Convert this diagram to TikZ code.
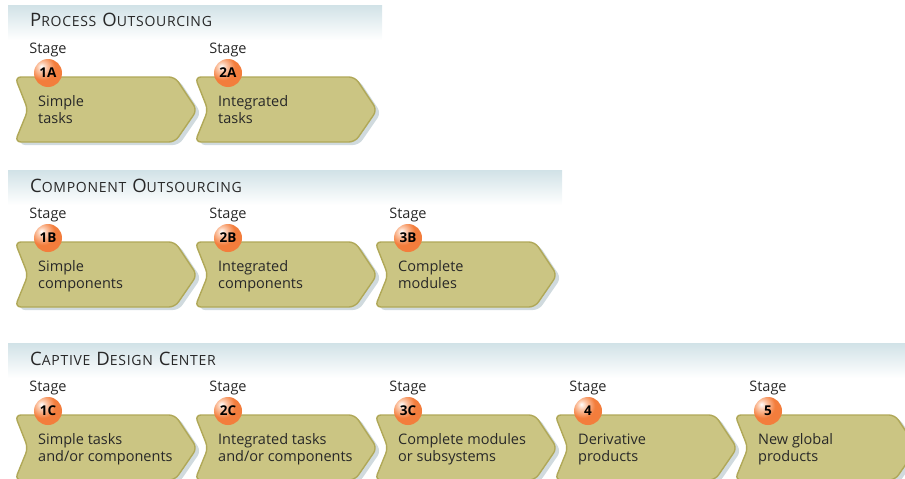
\documentclass[tikz,border=0pt]{standalone}
\usepackage{fontspec}
\setmainfont{Open Sans}
\usetikzlibrary{positioning}

\definecolor{chevfill}{RGB}{203,197,131}
\definecolor{chevedge}{RGB}{176,168,88}
\definecolor{bandtop}{RGB}{209,226,231}
\definecolor{txtgray}{RGB}{40,40,40}
\definecolor{numorange}{RGB}{243,125,60}
\definecolor{numlight}{RGB}{252,200,170}
\definecolor{shadowblue}{RGB}{120,150,160}

% highlight of the stage balls, up and to the left
\pgfdeclareradialshading{numball}{\pgfpoint{-12bp}{12bp}}{%
  color(0bp)=(white); color(8bp)=(numlight); color(22bp)=(numorange);
  color(45bp)=(numorange); color(60bp)=(numorange!92!black); color(100bp)=(numorange!92!black)}

% small caps made by hand: big initial, smaller capitals
\newcommand{\bigsc}[2]{{\addfontfeature{LetterSpace=5}{\fontsize{18.5}{19}\selectfont #1}{\fontsize{14}{14}\selectfont #2}}}
\newcommand{\scgap}{\hspace{6pt}}

\tikzset{
  stagebox/.style={fill=chevfill, draw=chevedge, line width=1.4pt, rounded corners=6pt},
  stageshadow/.style={fill=shadowblue, opacity=0.35, rounded corners=6pt},
  stagelbl/.style={text=txtgray, font=\fontsize{14.5}{15}\selectfont, inner sep=0pt},
  stagenum/.style={circle, shading=numball, minimum size=28pt, inner sep=0pt,
    font=\fontsize{13.5}{14}\selectfont\bfseries, text=black},
  boxtext/.style={text=txtgray, font=\fontsize{14.5}{15}\selectfont, inner sep=0pt, anchor=base west},
  rowtitle/.style={text=txtgray, inner sep=0pt, anchor=base west},
}

\begin{document}
\begin{tikzpicture}[x=1pt, y=-1pt]
\useasboundingbox (0,0) rectangle (905,479);
\clip (0,0) rectangle (905,479);

% header bands
\shade[top color=bandtop, bottom color=white] (8,5) rectangle (382,40);
\shade[top color=bandtop, bottom color=white] (8,170) rectangle (562,205);
\shade[top color=bandtop, bottom color=white] (8,343) rectangle (905,378);

\node[rowtitle] (title1) at (30,27) {\bigsc{P}{ROCESS}\scgap\bigsc{O}{UTSOURCING}};
\node[rowtitle] (title2) at (30,192) {\bigsc{C}{OMPONENT}\scgap\bigsc{O}{UTSOURCING}};
\node[rowtitle] (title3) at (30,365) {\bigsc{C}{APTIVE}\scgap\bigsc{D}{ESIGN}\scgap\bigsc{C}{ENTER}};

% stages: left x / top y / number / first line / second line
\foreach \x/\y/\num/\lineA/\lineB in {
   15/77/1A/Simple/tasks,
  195/77/2A/Integrated/tasks,
   15/242/1B/Simple/components,
  195/242/2B/Integrated/components,
  375/242/3B/Complete/modules,
   15/415/1C/Simple tasks/and\slash or components,
  195/415/2C/Integrated tasks/and\slash or components,
  375/415/3C/Complete modules/or subsystems,
  555/415/4/Derivative/products,
  735/415/5/New global/products}
{
  \fill[stageshadow] (\x+4,\y+3) -- ++(160,0) -- ++(22,33) -- ++(-22,32) -- ++(-160,0) -- ++(13,-32) -- cycle;
  \draw[stagebox] (\x,\y) -- ++(160,0) -- ++(22,33) -- ++(-22,32) -- ++(-160,0) -- ++(13,-32) -- cycle;
  \node[stagelbl, anchor=base] (lbl\num) at (\x+33,\y-24) {Stage};
  \node[stagenum] (num\num) at (\x+33,\y-4) {\num};
  \node[boxtext] (txt\num a) at (\x+23,\y+29) {\lineA};
  \node[boxtext] (txt\num b) at (\x+23,\y+46) {\lineB};
}

\end{tikzpicture}
\end{document}
